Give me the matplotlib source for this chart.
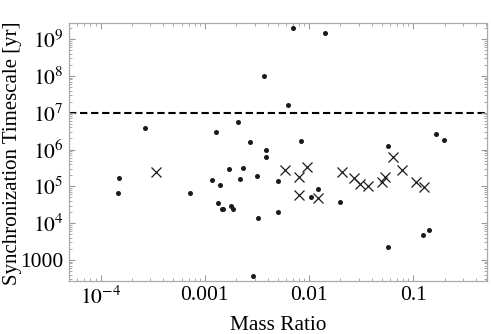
import matplotlib
matplotlib.use("Agg")
import matplotlib.pyplot as plt
from matplotlib.ticker import FixedLocator, FixedFormatter, LogLocator, NullFormatter

plt.rcParams['font.family'] = ['Liberation Serif', 'DejaVu Serif']
plt.rcParams['mathtext.fontset'] = 'stix'

# Filled dots
dot_x = [1.5e-4, 1.47e-4, 2.65e-4, 7.26e-4, 1.17e-3, 1.29e-3, 1.35e-3, 1.39e-3,
         1.46e-3, 1.50e-3, 1.70e-3, 1.80e-3, 1.85e-3, 2.08e-3, 2.2e-3, 2.32e-3,
         2.72e-3, 2.91e-3, 3.2e-3, 3.22e-3, 3.66e-3, 3.88e-3, 3.86e-3, 5.0e-3,
         5.08e-3, 6.24e-3, 6.97e-3, 8.3e-3, 1.035e-2, 1.21e-2, 1.43e-2, 2.0e-2,
         5.74e-2, 5.7e-2, 0.124, 0.142, 0.165, 0.197]
dot_y = [1.71e5, 6.6e4, 3.77e6, 6.7e4, 1.48e5, 3.05e6, 3.6e4, 1.1e5,
         2.46e4, 2.45e4, 3.0e5, 2.87e4, 2.45e4, 5.6e6, 1.55e5, 3.2e5,
         1.57e6, 365, 1.87e5, 1.38e4, 9.9e7, 9.5e5, 6.4e5, 1.96e4,
         1.39e5, 1.62e7, 2.0e9, 1.7e6, 5.1e4, 8.3e4, 1.44e9, 3.74e4,
         1.24e6, 2.29e3, 4.75e3, 6.6e3, 2.59e6, 1.81e6]

# Cross markers
cross_x = [3.38e-4, 5.85e-3, 7.96e-3, 7.96e-3, 9.6e-3, 1.21e-2, 2.08e-2, 2.72e-2,
           3.10e-2, 3.69e-2, 5.0e-2, 5.37e-2, 6.46e-2, 7.8e-2, 0.107, 0.126]
cross_y = [2.5e5, 2.77e5, 1.76e5, 5.8e4, 3.28e5, 4.8e4, 2.5e5, 1.65e5,
           1.15e5, 1.02e5, 1.28e5, 1.82e5, 6.25e5, 2.77e5, 1.28e5, 9.4e4]

threshold = 1e7

xtick_vals = [1e-4, 1e-3, 1e-2, 1e-1]
xtick_labels = [r'$10^{-4}$', '0.001', '0.01', '0.1']
ytick_vals = [1e3, 1e4, 1e5, 1e6, 1e7, 1e8, 1e9]
ytick_labels = ['1000', r'$10^{4}$', r'$10^{5}$', r'$10^{6}$', r'$10^{7}$', r'$10^{8}$', r'$10^{9}$']

fig = plt.figure(figsize=(4.91, 3.34), dpi=100)
ax = fig.add_axes([0.1405, 0.1596, 0.8514, 0.7706])
ax.set_xscale('log')
ax.set_yscale('log')
ax.set_xlim(4.98e-5, 0.51)
ax.set_ylim(272, 2.69e9)

ax.axhline(threshold, color='black', lw=1.5, ls=(0, (3.5, 1.8)), zorder=1)
ax.plot(dot_x, dot_y, 'o', color='#1a1a1a', ms=3.6, mew=0, zorder=3)
ax.plot(cross_x, cross_y, 'x', color='#1a1a1a', ms=7, mew=0.9, zorder=3)

ax.xaxis.set_major_locator(FixedLocator(xtick_vals))
ax.xaxis.set_major_formatter(FixedFormatter(xtick_labels))
ax.yaxis.set_major_locator(FixedLocator(ytick_vals))
ax.yaxis.set_major_formatter(FixedFormatter(ytick_labels))
ax.xaxis.set_minor_locator(LogLocator(base=10, subs=range(2, 10), numticks=20))
ax.yaxis.set_minor_locator(LogLocator(base=10, subs=range(2, 10), numticks=20))
ax.xaxis.set_minor_formatter(NullFormatter())
ax.yaxis.set_minor_formatter(NullFormatter())

ax.tick_params(which='both', direction='in', top=True, right=True, color='#999999')
ax.tick_params(which='major', length=4, width=0.8, labelsize=15.5, pad=4)
ax.tick_params(which='minor', length=2, width=0.6)
for s in ax.spines.values():
    s.set_color('#aaaaaa')
    s.set_linewidth(0.9)

ax.set_xlabel('Mass Ratio', fontsize=15.3, labelpad=5)
fig.text(12.5 / 491, 1 - 153 / 334, 'Synchronization Timescale [yr]', fontsize=15,
         rotation=90, ha='center', va='center')

fig.savefig('out.png', dpi=100)
